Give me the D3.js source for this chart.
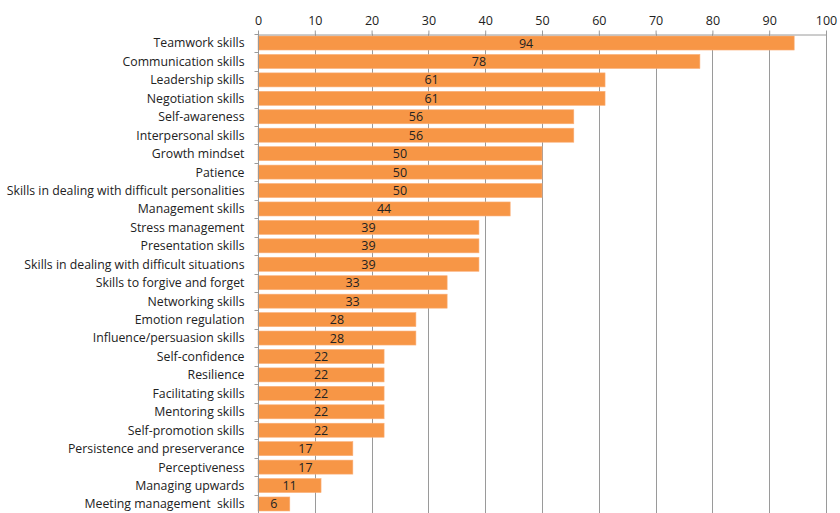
<!DOCTYPE html>
<html><head><meta charset="utf-8">
<script src="https://cdn.jsdelivr.net/npm/d3@7"></script>
<style>body{margin:0;background:#fff}svg{display:block}text{font-family:"Open Sans","Noto Sans",sans-serif}</style>
</head><body>
<svg id="c" width="840" height="513"></svg>
<script>
const categories = ["Teamwork skills","Communication skills","Leadership skills","Negotiation skills","Self-awareness","Interpersonal skills","Growth mindset","Patience","Skills in dealing with difficult personalities","Management skills","Stress management","Presentation skills","Skills in dealing with difficult situations","Skills to forgive and forget","Networking skills","Emotion regulation","Influence/persuasion skills","Self-confidence","Resilience","Facilitating skills","Mentoring skills","Self-promotion skills","Persistence and preserverance","Perceptiveness","Managing upwards","Meeting management  skills"];
const values = [94.4,77.8,61.1,61.1,55.6,55.6,50,50,50,44.4,38.9,38.9,38.9,33.3,33.3,27.8,27.8,22.2,22.2,22.2,22.2,22.2,16.7,16.7,11.1,5.6];
const tickValues = [0,10,20,30,40,50,60,70,80,90,100];

const svg = d3.select("#c");
const L = 258, R = 826, T = 33.8, B = 513.2;
const x = d3.scaleLinear().domain([0,100]).range([L,R]);
const y = d3.scaleBand().domain(categories).range([T,B]).paddingInner(0.24).paddingOuter(0.12);

// gridlines
svg.append("g").selectAll("line").data(tickValues.slice(1)).join("line")
  .attr("x1",d=>Math.round(x(d))+0.5).attr("x2",d=>Math.round(x(d))+0.5)
  .attr("y1",T).attr("y2",513).attr("stroke","#9a9a9a").attr("stroke-width",1);

// bars
svg.append("g").selectAll("rect").data(values).join("rect")
  .attr("x",x(0)).attr("y",(d,i)=>y(categories[i]))
  .attr("width",d=>x(d)-x(0)).attr("height",y.bandwidth())
  .attr("fill","#F79646").attr("stroke","#fbb07a").attr("stroke-width",0.6);

// value labels
svg.append("g").selectAll("text").data(values).join("text")
  .attr("x",d=>(x(0)+x(d))/2).attr("y",(d,i)=>y(categories[i])+y.bandwidth()/2)
  .attr("dy","0.36em").attr("text-anchor","middle")
  .attr("font-size",12.5).attr("fill","#222")
  .text(d=>d3.format(".0f")(d));

// top axis
const xa = svg.append("g").attr("transform",`translate(0,${Math.round(T)+0.5})`)
  .call(d3.axisTop(x).tickValues(tickValues).tickSize(4).tickSizeOuter(0).tickPadding(6));
xa.select(".domain").attr("stroke","#9a9a9a");
xa.selectAll(".tick line").attr("stroke","#9a9a9a");
xa.selectAll("text").attr("font-size",12.5).attr("fill","#222").attr("font-family","'Open Sans','Noto Sans',sans-serif");

// left axis
const band = y.step();
const ya = svg.append("g").attr("transform",`translate(${L+0.5},0)`);
ya.append("line").attr("x1",0).attr("x2",0).attr("y1",T).attr("y2",513).attr("stroke","#9a9a9a");
const bounds = d3.range(categories.length+1).map(i=>T+i*band);
ya.selectAll("line.t").data(bounds).join("line").attr("class","t")
  .attr("x1",-4).attr("x2",0).attr("y1",d=>Math.round(d)+0.5).attr("y2",d=>Math.round(d)+0.5).attr("stroke","#9a9a9a");
ya.selectAll("text").data(categories).join("text")
  .attr("x",-14).attr("y",d=>y(d)+y.bandwidth()/2).attr("dy","0.36em")
  .attr("text-anchor","end").attr("font-size",12.3).attr("fill","#222")
  .attr("xml:space","preserve").style("white-space","pre")
  .text(d=>d);
</script>
</body></html>
